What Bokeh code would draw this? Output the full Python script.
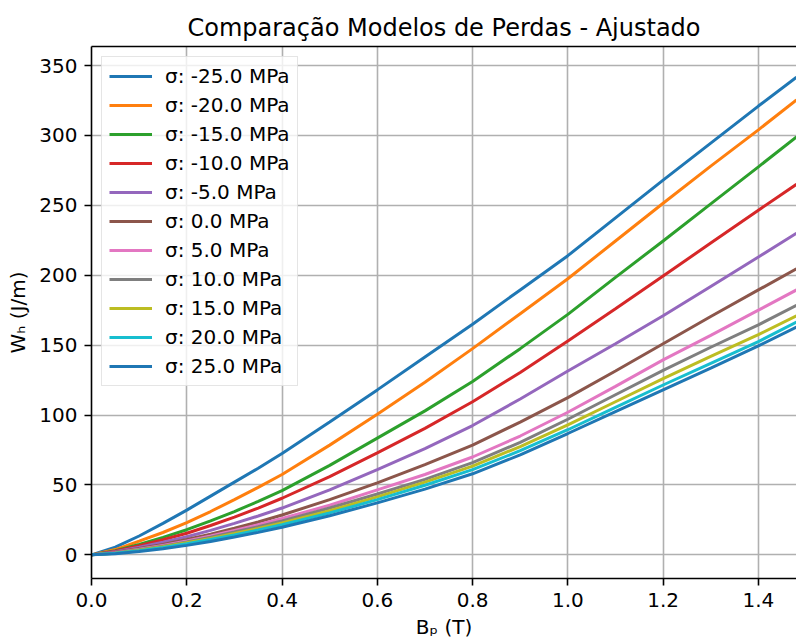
from bokeh.plotting import figure
from bokeh.models import Range1d, FixedTicker, LinearAxis, Legend, LegendItem, NumeralTickFormatter, Title
from bokeh.embed import file_html
from bokeh.resources import INLINE

# ---- data ----
B = [0.0, 0.05, 0.1, 0.15, 0.2, 0.25, 0.3, 0.35, 0.4, 0.5, 0.6, 0.7, 0.8, 0.9, 1.0,
     1.1, 1.2, 1.3, 1.4, 1.48]

sigma_labels = ["σ: -25.0 MPa", "σ: -20.0 MPa", "σ: -15.0 MPa", "σ: -10.0 MPa", "σ: -5.0 MPa",
                "σ: 0.0 MPa", "σ: 5.0 MPa", "σ: 10.0 MPa", "σ: 15.0 MPa", "σ: 20.0 MPa", "σ: 25.0 MPa"]

w_m25 = [0, 5.5, 13.5, 22.5, 32, 42, 52, 62, 72.5, 95, 118, 141.5, 165, 189.5, 214,
         241, 268, 294.5, 321, 341.7]
w_m20 = [0, 3.8, 9.8, 16, 23, 31, 39.5, 48.3, 57.5, 78.5, 100.5, 123.5, 147.5, 172.5, 197.5,
         224.5, 251.5, 278, 304, 325.4]
w_m15 = [0, 3, 7.5, 12.5, 18, 24.3, 31, 38.3, 46, 64, 83.5, 103, 124, 147.5, 172,
         198.5, 224.5, 251, 277.5, 299]
w_m10 = [0, 2.6, 6.5, 10.8, 15.5, 21, 27, 33.5, 40.5, 56, 73, 90.5, 109.5, 130.5, 153,
         176, 199.5, 223, 246.5, 265]
w_m5 = [0, 2.2, 5.5, 9, 13, 17.5, 22.5, 27.8, 33.5, 46.5, 61, 76, 92.5, 111.5, 131.5,
        151, 171, 192, 213, 230]
w_0 = [0, 1.8, 4.5, 7.5, 11, 14.8, 19, 23.5, 28.5, 39.5, 51.5, 64.5, 78.5, 95, 112.5,
       131.5, 151, 170.5, 189.5, 204.6]
w_p5 = [0, 1.5, 4, 6.7, 10, 13.5, 17.5, 21.5, 26, 35.5, 46.5, 57.5, 70, 85, 102,
        120.5, 139.5, 157, 175, 189.5]
w_p10 = [0, 1.3, 3.6, 6.2, 9.3, 12.6, 16.3, 20.1, 24.2, 33.5, 43.5, 54, 66, 80.5, 97,
         114.5, 132, 148.5, 164.5, 178.5]
w_p15 = [0, 1.2, 3.3, 5.8, 8.7, 11.8, 15.3, 18.9, 22.8, 31.6, 41.5, 52, 63.5, 77.5, 93,
         109.5, 126, 142, 157.5, 171]
w_p20 = [0, 1.1, 3, 5.3, 8, 11, 14.3, 17.8, 21.5, 30, 39.5, 49.8, 61, 74.5, 89.5,
         105.5, 121.5, 137, 152.5, 166.5]
w_p25 = [0, 0.8, 2.4, 4.4, 6.8, 9.6, 12.8, 16.1, 19.8, 28, 37.2, 47, 58, 71.5, 86.8,
         102.5, 118, 133.5, 149.5, 163]

series = [w_m25, w_m20, w_m15, w_m10, w_m5, w_0, w_p5, w_p10, w_p15, w_p20, w_p25]
colors = ["#1f77b4", "#ff7f0e", "#2ca02c", "#d62728", "#9467bd", "#8c564b",
          "#e377c2", "#7f7f7f", "#bcbd22", "#17becf", "#1f77b4"]

x_ticks = [0.0, 0.2, 0.4, 0.6, 0.8, 1.0, 1.2, 1.4]
y_ticks = [0, 50, 100, 150, 200, 250, 300, 350]

FONT = "DejaVu Sans"

p = figure(width=796, height=641, output_backend="svg", toolbar_location=None,
           x_range=Range1d(0, 1.48), y_range=Range1d(-16.9, 363.6),
           min_border_left=91, min_border_right=0, min_border_top=46, min_border_bottom=63)
p.outline_line_color = None
p.background_fill_color = "white"
p.border_fill_color = "white"

p.title = Title(text="Comparação Modelos de Perdas - Ajustado", align="center",
                text_font=FONT, text_font_size="24px", text_font_style="normal",
                text_color="black")

for ax in (p.xaxis[0], p.yaxis[0]):
    ax.major_label_text_font = FONT
    ax.major_label_text_font_size = "20px"
    ax.major_label_text_color = "black"
    ax.axis_label_text_font = FONT
    ax.axis_label_text_font_size = "20px"
    ax.axis_label_text_font_style = "normal"
    ax.axis_label_text_color = "black"
    ax.axis_line_color = "black"
    ax.axis_line_width = 1.6
    ax.major_tick_line_color = "black"
    ax.major_tick_line_width = 1.6
    ax.major_tick_out = 7
    ax.major_tick_in = 0
    ax.minor_tick_out = 0
    ax.minor_tick_in = 0
    ax.major_label_standoff = 7

p.xaxis[0].axis_label_standoff = 5
p.yaxis[0].axis_label_standoff = 6
p.xaxis[0].ticker = FixedTicker(ticks=x_ticks)
p.xaxis[0].formatter = NumeralTickFormatter(format="0.0")
p.yaxis[0].ticker = FixedTicker(ticks=y_ticks)
p.xaxis[0].axis_label = "Bₚ (T)"
p.yaxis[0].axis_label = "Wₕ (J/m)"

top_axis = LinearAxis(ticker=FixedTicker(ticks=[]), major_tick_out=0, major_tick_in=0,
                      minor_tick_out=0, minor_tick_in=0, axis_line_color="black",
                      axis_line_width=1.6, major_label_text_font_size="0px")
p.add_layout(top_axis, "above")

p.xgrid.ticker = FixedTicker(ticks=x_ticks)
p.ygrid.ticker = FixedTicker(ticks=y_ticks)
for g in (p.xgrid[0], p.ygrid[0]):
    g.grid_line_color = "#b0b0b0"
    g.grid_line_width = 1.6

items = []
for lab, ys, c in zip(sigma_labels, series, colors):
    r = p.line(B, ys, line_color=c, line_width=3)
    items.append(LegendItem(label=lab, renderers=[r]))

legend = Legend(items=items, location="top_left", margin=10, padding=7,
                spacing=5, glyph_width=43, glyph_height=24, label_height=24,
                label_standoff=13, label_text_font=FONT, label_text_font_size="20px",
                label_text_color="black", border_line_color="#cccccc", border_line_width=1.6,
                background_fill_color="white", background_fill_alpha=0.8)
p.add_layout(legend, "center")

open("out.html", "w").write(file_html(p, INLINE))
